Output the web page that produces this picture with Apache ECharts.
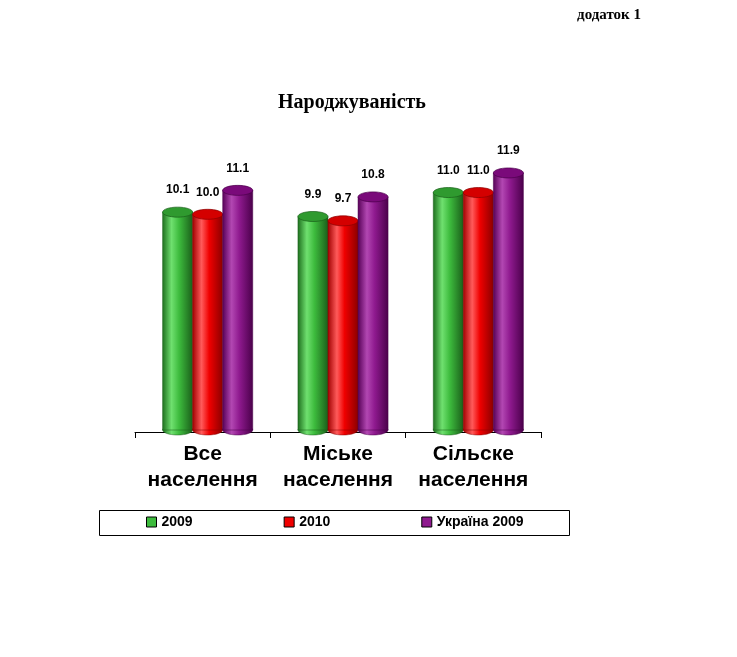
<!DOCTYPE html>
<html>
<head>
<meta charset="utf-8">
<title>Народжуваність</title>
<script src="https://cdn.jsdelivr.net/npm/echarts@6/dist/echarts.min.js"></script>
<style>
	html, body { margin: 0; padding: 0; background: #fff; }
	#chart { width: 737px; height: 657px; }
</style>
</head>
<body>
<div id="chart"></div>
<script>
// categories and values
var categories = ['Все\nнаселення', 'Міське\nнаселення', 'Сільске\nнаселення'];
var seriesNames = ['2009', '2010', 'Україна 2009'];
var values2009 = [10.1, 9.9, 11.0];
var values2010 = [10.0, 9.7, 11.0];
var valuesUkraine2009 = [11.1, 10.8, 11.9];

// cylinder shading: [dark edge, highlight, mid, dark edge, top cap]
var palette = [
	['#1d6e1d', '#6fe06f', '#3dbb3d', '#1a5e1a', '#2f9a2f'],
	['#a00000', '#ff5a5a', '#f00000', '#8a0000', '#d40000'],
	['#560056', '#b247b2', '#8f1a8f', '#4a004a', '#7a0a7a'],
];
var offsets = [-0.185, 0.037, 0.259]; // shift of each cylinder inside a category band
var BAR_FRAC = 0.222;

function toData(arr) {
	var out = [];
	arr.map(function(v, i) {
		out.push([i, v]);
	});
	return out;
}

function cylinder(idx) {
	var c = palette[idx];
	var fill = new echarts.graphic.LinearGradient(0, 0, 1, 0, [
		{ offset: 0, color: c[0] },
		{ offset: 0.3, color: c[1] },
		{ offset: 0.55, color: c[2] },
		{ offset: 1, color: c[3] },
	]);
	return function(params, api) {
		var base = api.coord([api.value(0), 0]);
		var top = api.coord([api.value(0), api.value(1)]);
		var band = api.size([1, 0])[0];
		var w = band * BAR_FRAC;
		var cx = base[0] + band * offsets[idx];
		var ry = 5;
		return {
			type: 'group',
			children: [
				{
					type: 'ellipse',
					shape: { cx: cx, cy: base[1] - 2, rx: w / 2, ry: ry },
					style: { fill: fill, stroke: c[3], lineWidth: 0.5 },
				},
				{
					type: 'rect',
					shape: { x: cx - w / 2, y: top[1], width: w, height: base[1] - 2 - top[1] },
					style: { fill: fill, stroke: c[3], lineWidth: 0.5 },
				},
				{
					type: 'ellipse',
					shape: { cx: cx, cy: top[1], rx: w / 2, ry: ry },
					style: { fill: c[4], stroke: c[3], lineWidth: 0.7 },
				},
				{
					type: 'text',
					style: {
						x: cx,
						y: top[1] - 22,
						text: api.value(1).toFixed(1),
						textAlign: 'center',
						textVerticalAlign: 'middle',
						font: 'bold 12px "Liberation Sans", Arial, sans-serif',
						fill: '#000',
					},
				},
			],
		};
	};
}

var allValues = [values2009, values2010, valuesUkraine2009];
var series = [];
allValues.map(function(vals, i) {
	series.push({
		name: seriesNames[i],
		type: 'custom',
		renderItem: cylinder(i),
		itemStyle: { color: palette[i][2] },
		data: toData(vals),
	});
});

var chart = echarts.init(document.getElementById('chart'));
chart.setOption({
	backgroundColor: '#fff',
	animation: false,
	grid: { left: 135, top: 149, width: 406, height: 283 },
	xAxis: {
		type: 'category',
		data: categories,
		axisLine: { lineStyle: { color: '#000', width: 1 } },
		axisTick: { show: true, interval: 0, length: 6, lineStyle: { color: '#000', width: 1 } },
		axisLabel: {
			interval: 0,
			color: '#000',
			fontFamily: '"Liberation Sans", Arial, sans-serif',
			fontWeight: 'bold',
			fontSize: 21,
			lineHeight: 26,
			margin: 9,
		},
	},
	yAxis: {
		type: 'value',
		min: 0,
		max: 13,
		show: false,
		splitLine: { show: false },
	},
	legend: {
		left: 146,
		top: 515,
		padding: 0,
		itemGap: 91,
		itemWidth: 10,
		itemHeight: 10,
		icon: 'rect',
		itemStyle: { borderColor: '#000', borderWidth: 1 },
		textStyle: {
			color: '#000',
			fontFamily: '"Liberation Sans", Arial, sans-serif',
			fontWeight: 'bold',
			fontSize: 14,
		},
		data: seriesNames,
	},
	graphic: [
		{
			type: 'rect',
			shape: { x: 99.5, y: 510.5, width: 470, height: 25 },
			style: { fill: 'none', stroke: '#000', lineWidth: 1 },
			z: -1,
		},
		{
			type: 'text',
			x: 352,
			y: 103,
			style: {
				text: 'Народжуваність',
				textAlign: 'center',
				textVerticalAlign: 'middle',
				font: 'bold 20px "Liberation Serif", "Times New Roman", serif',
				fill: '#000',
			},
		},
		{
			type: 'text',
			x: 641,
			y: 15,
			style: {
				text: 'додаток 1',
				textAlign: 'right',
				textVerticalAlign: 'middle',
				font: 'bold 15px "Liberation Serif", "Times New Roman", serif',
				fill: '#000',
			},
		},
	],
	series: series,
});
</script>
</body>
</html>
